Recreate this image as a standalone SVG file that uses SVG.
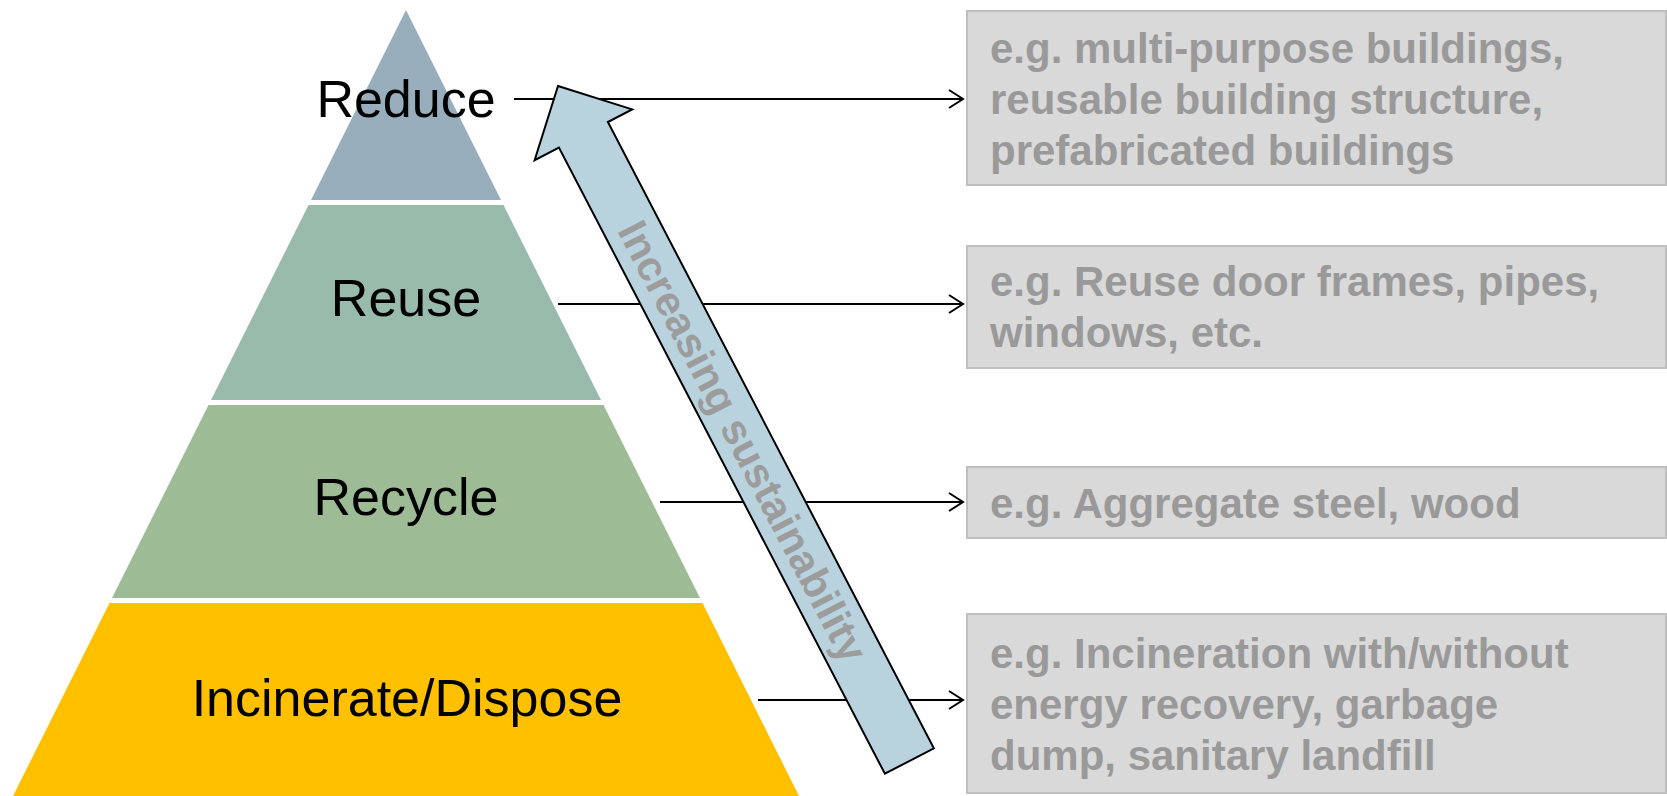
<svg xmlns="http://www.w3.org/2000/svg" width="1667" height="796" viewBox="0 0 1667 796">
<style>
.lbl{font-family:"Liberation Sans",Arial,sans-serif;font-size:52px;fill:#000;text-anchor:middle}
.box{fill:#D9D9D9;stroke:#BFBFBF;stroke-width:2}
.btx{font-family:"Liberation Sans",Arial,sans-serif;font-size:42px;font-weight:bold;fill:#999999}
.con{stroke:#000;stroke-width:2;fill:none;marker-end:url(#chev)}
</style>
<defs>
<marker id="chev" markerUnits="userSpaceOnUse" markerWidth="20" markerHeight="22" refX="15" refY="10" orient="auto">
<path d="M1,1 L15,10 L1,19" fill="none" stroke="#000" stroke-width="2"/>
</marker>
</defs>
<rect width="1667" height="796" fill="#fff"/>
<g id="layer-reduce">
<polygon points="406,10 501,200 311,200" fill="#98AEBD"/>
<text class="lbl" x="406" y="117">Reduce</text>
</g>
<g id="layer-reuse">
<polygon points="308.5,205 503.5,205 601,400 211,400" fill="#98BBAB"/>
<text class="lbl" x="406" y="316">Reuse</text>
</g>
<g id="layer-recycle">
<polygon points="208.5,405 603.5,405 700,598 112,598" fill="#9DBB95"/>
<text class="lbl" x="406" y="515">Recycle</text>
</g>
<g id="layer-incinerate">
<polygon points="109.5,603 702.5,603 799,796 13,796" fill="#FFC000"/>
<text class="lbl" x="407" y="716">Incinerate/Dispose</text>
</g>
<g id="connectors">
<line class="con" x1="514" y1="99" x2="963" y2="99"/>
<line class="con" x1="558" y1="304" x2="963" y2="304"/>
<line class="con" x1="660" y1="502" x2="963" y2="502"/>
<line class="con" x1="758" y1="700" x2="963" y2="700"/>
</g>
<g id="sustainability-arrow">
<polygon transform="translate(558,86) rotate(-27.5)" points="0,0 55,55 27.6,55 27.6,761 -27.6,761 -27.6,55 -55,55" fill="#B8D2DE" stroke="#000" stroke-width="2" stroke-linejoin="miter"/>
<text transform="translate(730,448) rotate(62.5)" x="0" y="0" text-anchor="middle" font-family="Liberation Sans, Arial, sans-serif" font-size="42" font-weight="bold" fill="#9C9C9C">Increasing sustainability</text>
</g>
<g id="box-reduce">
<rect class="box" x="967" y="11" width="699" height="174"/>
<text class="btx" x="990" y="63">e.g. multi-purpose buildings,</text>
<text class="btx" x="990" y="114">reusable building structure,</text>
<text class="btx" x="990" y="165">prefabricated buildings</text>
</g>
<g id="box-reuse">
<rect class="box" x="967" y="246" width="699" height="122"/>
<text class="btx" x="990" y="296">e.g. Reuse door frames, pipes,</text>
<text class="btx" x="990" y="347">windows, etc.</text>
</g>
<g id="box-recycle">
<rect class="box" x="967" y="467" width="699" height="71"/>
<text class="btx" x="990" y="518">e.g. Aggregate steel, wood</text>
</g>
<g id="box-incinerate">
<rect class="box" x="967" y="614" width="699" height="179"/>
<text class="btx" x="990" y="668">e.g. Incineration with/without</text>
<text class="btx" x="990" y="719">energy recovery, garbage</text>
<text class="btx" x="990" y="770">dump, sanitary landfill</text>
</g>
</svg>
